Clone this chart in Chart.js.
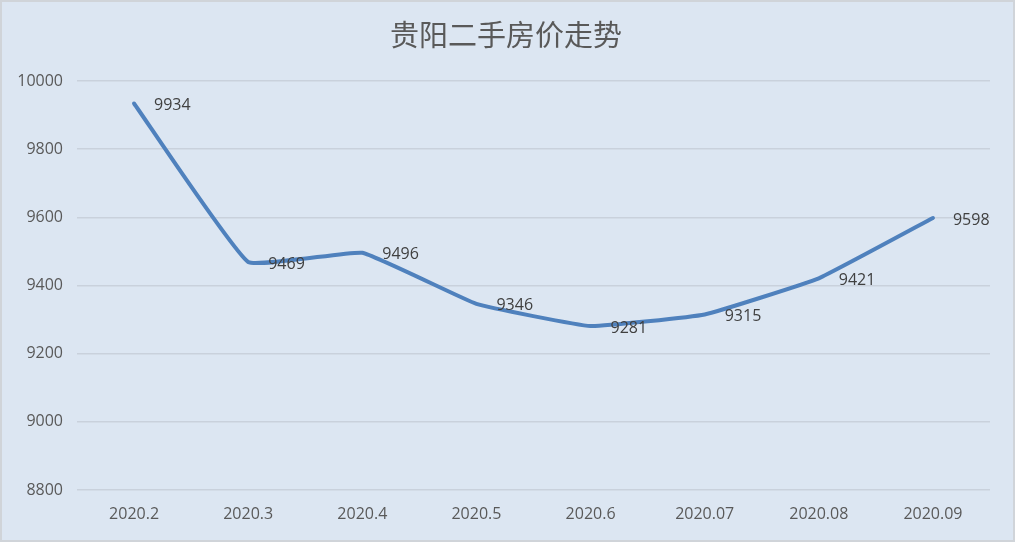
<!DOCTYPE html>
<html>
<head>
<meta charset="utf-8">
<script src="https://cdn.jsdelivr.net/npm/chart.js@4"></script>
<style>
  html, body { margin: 0; padding: 0; background: #ffffff; }
  #wrap { width: 1015px; height: 542px; }
</style>
</head>
<body>
<div id="wrap"><canvas id="price-chart" width="1015" height="542"></canvas></div>
<script>
const months = ['2020.2', '2020.3', '2020.4', '2020.5', '2020.6', '2020.07', '2020.08', '2020.09'];
const prices = [9934, 9469, 9496, 9346, 9281, 9315, 9421, 9598];
const yTicks = [8800, 9000, 9200, 9400, 9600, 9800, 10000];

const textFont = '"Open Sans", "Noto Sans CJK SC", sans-serif';

// background, frame, title and point labels
const decor = {
  id: 'decor',
  beforeDraw(chart) {
    const ctx = chart.ctx;
    ctx.save();
    ctx.fillStyle = '#dce6f2';
    ctx.fillRect(0, 0, chart.width, chart.height);
    ctx.strokeStyle = '#d0d4d9';
    ctx.lineWidth = 2;
    ctx.strokeRect(1, 1, chart.width - 2, chart.height - 2);
    ctx.fillStyle = '#595959';
    ctx.font = '29px "Noto Sans CJK SC", sans-serif';
    ctx.textAlign = 'center';
    ctx.textBaseline = 'middle';
    ctx.fillText('贵阳二手房价走势', 506, 35);
    ctx.restore();
  },
  afterDatasetsDraw(chart) {
    const ctx = chart.ctx;
    const meta = chart.getDatasetMeta(0);
    ctx.save();
    ctx.fillStyle = '#404040';
    ctx.font = '16px ' + textFont;
    ctx.textAlign = 'left';
    ctx.textBaseline = 'middle';
    meta.data.forEach((pt, i) => {
      ctx.fillText(String(prices[i]), pt.x + 20, pt.y + 2);
    });
    ctx.restore();
  }
};

const ctx = document.getElementById('price-chart').getContext('2d');
new Chart(ctx, {
  type: 'line',
  data: {
    labels: months,
    datasets: [{
      data: prices,
      borderColor: '#4f81bd',
      borderWidth: 4,
      pointRadius: 0,
      tension: 0.1,
      borderCapStyle: 'round',
      fill: false
    }]
  },
  options: {
    responsive: false,
    animation: false,
    layout: { padding: { top: 81, right: 25, bottom: 0, left: 0 } },
    plugins: {
      legend: { display: false },
      title: { display: false },
      tooltip: { enabled: false }
    },
    scales: {
      x: {
        offset: true,
        grid: { display: false, drawTicks: false },
        border: { display: false },
        ticks: { color: '#595959', font: { family: textFont, size: 16 }, padding: 15 },
        afterFit(scale) { scale.height = 52; }
      },
      y: {
        min: yTicks[0],
        max: yTicks[yTicks.length - 1],
        afterBuildTicks(scale) { scale.ticks = yTicks.map(v => ({ value: v })); },
        grid: { color: '#c9d1dc', lineWidth: 1.5, drawTicks: false },
        border: { display: false },
        ticks: {
          color: '#595959',
          font: { family: textFont, size: 16 },
          padding: 14,
          callback: v => String(v)
        },
        afterFit(scale) { scale.width = 77; }
      }
    }
  },
  plugins: [decor]
});
</script>
</body>
</html>
